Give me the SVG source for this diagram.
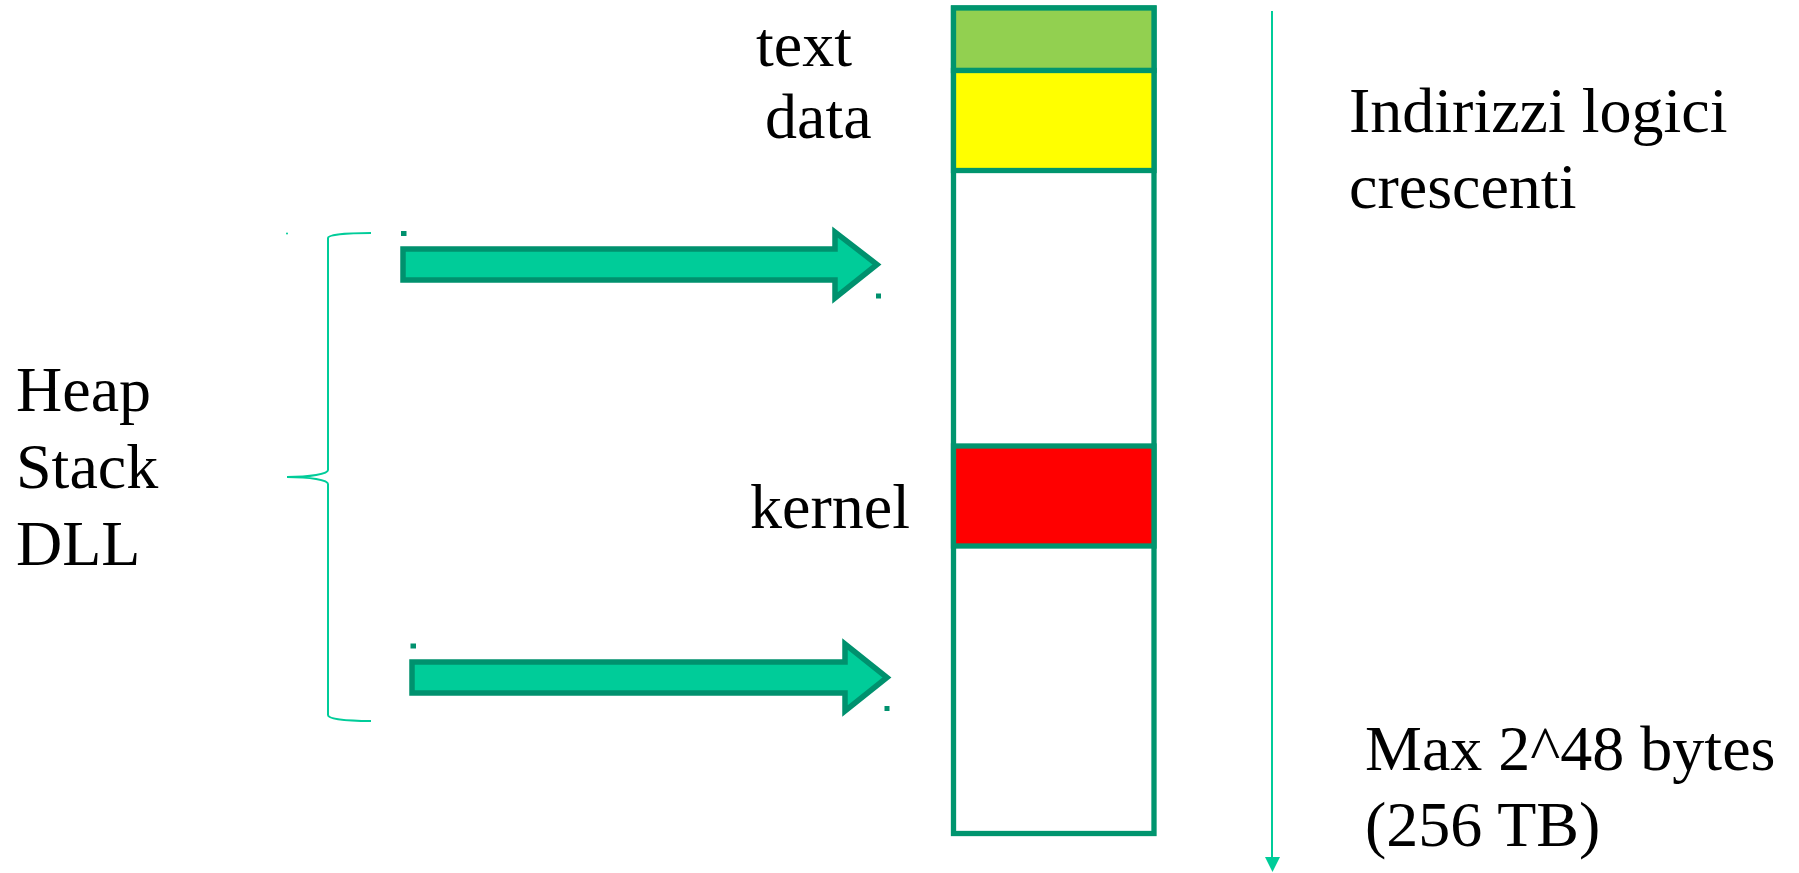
<svg xmlns="http://www.w3.org/2000/svg" width="1799" height="873" viewBox="0 0 1799 873">
<style>
.t{font-family:"Liberation Serif","Times New Roman",serif;font-size:64px;fill:#000}
.seg{stroke:#00956E;stroke-width:5.3}
.arr{fill:#00CC99;stroke:#00916E;stroke-width:5.5;stroke-linejoin:miter}
.dot{fill:#00916E}
.brace{fill:none;stroke:#00CC99;stroke-width:2}
</style>
<rect width="1799" height="873" fill="#fff"/>
<g id="memory">
<rect class="seg" x="953.5" y="8" width="200.5" height="825.5" fill="#fff"/>
<rect class="seg" x="953.5" y="8" width="200.5" height="62.5" fill="#92D050"/>
<rect class="seg" x="953.5" y="70.5" width="200.5" height="100" fill="#FFFF00"/>
<rect class="seg" x="953.5" y="446" width="200.5" height="100" fill="#FF0000"/>
</g>
<g id="labels">
<text class="t" x="756" y="66">text</text>
<text class="t" x="765" y="138">data</text>
<text class="t" x="750" y="528">kernel</text>
<text class="t" x="1349" y="132">Indirizzi logici</text>
<text class="t" x="1349" y="208">crescenti</text>
<text class="t" x="1365" y="770">Max 2^48 bytes</text>
<text class="t" x="1365" y="846">(256 TB)</text>
</g>
<g id="group-label">
<text class="t" x="16" y="411">Heap</text>
<text class="t" x="16" y="488">Stack</text>
<text class="t" x="16" y="565">DLL</text>
<path class="brace" d="M371,233 C345,233 328,235 328,238 L328,470 C328,474 310,477 287,477 C310,477 328,480 328,484 L328,715 C328,719 345,721 371,721"/>
<circle cx="287" cy="233.5" r="1" fill="#00CC99"/>
</g>
<g id="connectors">
<polygon class="arr" points="403,249 835,249 835,232 877,264.5 835,298 835,280 403,280"/>
<rect class="dot" x="401" y="231" width="5.5" height="5"/>
<rect class="dot" x="876" y="293.5" width="5" height="5"/>
<polygon class="arr" points="412,662 845,662 845,644 887,677.5 845,711 845,693 412,693"/>
<rect class="dot" x="410.5" y="643.5" width="5.5" height="5"/>
<rect class="dot" x="884.5" y="706" width="5" height="5"/>
<line x1="1272" y1="11" x2="1272" y2="858" stroke="#00CC99" stroke-width="2"/>
<polygon points="1265,857 1280,857 1272.5,872" fill="#00CC99"/>
</g>
</svg>
